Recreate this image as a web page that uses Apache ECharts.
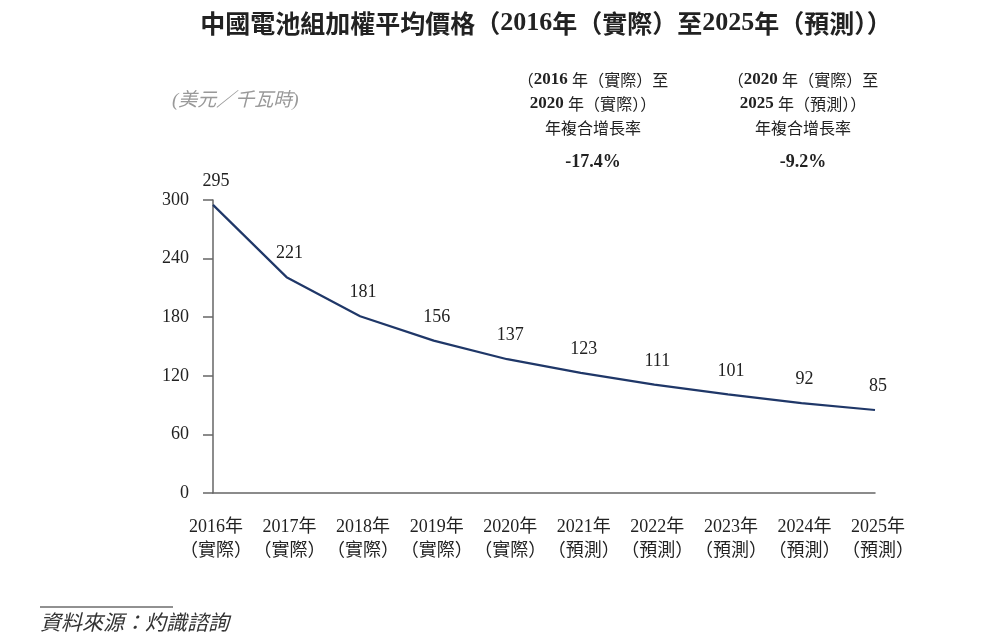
<!DOCTYPE html>
<html>
<head>
<meta charset="utf-8">
<script src="https://cdn.jsdelivr.net/npm/echarts@6/dist/echarts.min.js"></script>
<style>
	html, body { margin: 0; padding: 0; background: #fff; }
	#chart { width: 1000px; height: 641px; }
</style>
</head>
<body>
<div id="chart"></div>
<script type="text/javascript">
	// 年份及標註
	var years = ['2016年', '2017年', '2018年', '2019年', '2020年', '2021年', '2022年', '2023年', '2024年', '2025年'];
	var yearTags = ['實際', '實際', '實際', '實際', '實際', '預測', '預測', '預測', '預測', '預測'];
	// 價格（美元／千瓦時）
	var prices = [295, 221, 181, 156, 137, 123, 111, 101, 92, 85];
	var yTicks = [0, 60, 120, 180, 240, 300];
	var cagrLabels = ['-17.4%', '-9.2%'];

	var serif = '"Liberation Serif", "Noto Sans CJK TC", serif';
	var cjk = '"Noto Sans CJK TC", sans-serif';
	var categories = years.map(function (y, i) { return y + '\n（' + yearTags[i] + '）'; });

	// 數字粗體、中文常規
	var numStyle = function (size) { return { fontFamily: serif, fontWeight: 'bold', fontSize: size, fill: '#222' }; };
	var cjkStyle = function (size) { return { fontFamily: cjk, fontWeight: 'normal', fontSize: size, fill: '#222' }; };

	var myChart = echarts.init(document.getElementById('chart'));
	var option = {
		backgroundColor: '#fff',
		animation: false,
		title: {
			text: '{c|中國電池組加權平均價格（}{n|2016}{c|年（實際）至}{n|2025}{c|年（預測））}',
			left: 541,
			textAlign: 'center',
			top: 5,
			textStyle: {
				rich: {
					c: { fontFamily: cjk, fontWeight: 'bold', fontSize: 25, color: '#222' },
					n: { fontFamily: serif, fontWeight: 'bold', fontSize: 26, color: '#222' }
				}
			}
		},
		grid: { left: 213, right: 125, top: 200, bottom: 148 },
		xAxis: {
			type: 'category',
			data: categories,
			boundaryGap: false,
			axisLine: { lineStyle: { color: '#666', width: 1.5 } },
			axisTick: { show: false },
			axisLabel: {
				margin: 22,
				padding: [0, 0, 0, 6],
				interval: 0,
				fontFamily: serif,
				fontSize: 18,
				lineHeight: 24,
				color: '#222'
			}
		},
		yAxis: {
			type: 'value',
			min: yTicks[0],
			max: yTicks[yTicks.length - 1],
			interval: 60,
			splitLine: { show: false },
			axisLine: { show: true, lineStyle: { color: '#666', width: 1.5 } },
			axisTick: { show: true, inside: false, length: 10, lineStyle: { color: '#666', width: 1.5 } },
			axisLabel: { margin: 24, fontFamily: serif, fontSize: 18, color: '#222' }
		},
		graphic: [
			{ type: 'text', left: 172, top: 91, style: { text: '(美元／千瓦時)', font: 'italic 19px ' + serif, fill: '#999' } },
			{
				type: 'text', x: 593, y: 68,
				style: {
					text: '{c|（}{n|2016 }{c|年（實際）至}\n{n|2020 }{c|年（實際））}\n{c|年複合增長率}',
					align: 'center', lineHeight: 24,
					rich: { c: cjkStyle(16), n: numStyle(17) }
				}
			},
			{ type: 'text', x: 593, y: 153, style: { text: cagrLabels[0], font: 'bold 18px ' + serif, fill: '#222', align: 'center' } },
			{
				type: 'text', x: 803, y: 68,
				style: {
					text: '{c|（}{n|2020 }{c|年（實際）至}\n{n|2025 }{c|年（預測））}\n{c|年複合增長率}',
					align: 'center', lineHeight: 24,
					rich: { c: cjkStyle(16), n: numStyle(17) }
				}
			},
			{ type: 'text', x: 803, y: 153, style: { text: cagrLabels[1], font: 'bold 18px ' + serif, fill: '#222', align: 'center' } },
			{ type: 'line', shape: { x1: 40, y1: 607, x2: 173, y2: 607 }, style: { stroke: '#222', lineWidth: 1 } },
			{ type: 'text', left: 40, top: 614, style: { text: '資料來源：灼識諮詢', font: 'italic 21px ' + serif, fill: '#333' } }
		],
		series: [
			{
				name: '價格',
				type: 'line',
				data: prices,
				symbol: 'circle',
				symbolSize: 1,
				showSymbol: true,
				itemStyle: { color: 'rgba(0,0,0,0)' },
				lineStyle: { color: '#1f3768', width: 2.2 },
				label: {
					show: true,
					position: 'top',
					distance: 14,
					offset: [3, 0],
					fontFamily: serif,
					fontSize: 18,
					color: '#222'
				}
			}
		]
	};
	myChart.setOption(option);
</script>
</body>
</html>
